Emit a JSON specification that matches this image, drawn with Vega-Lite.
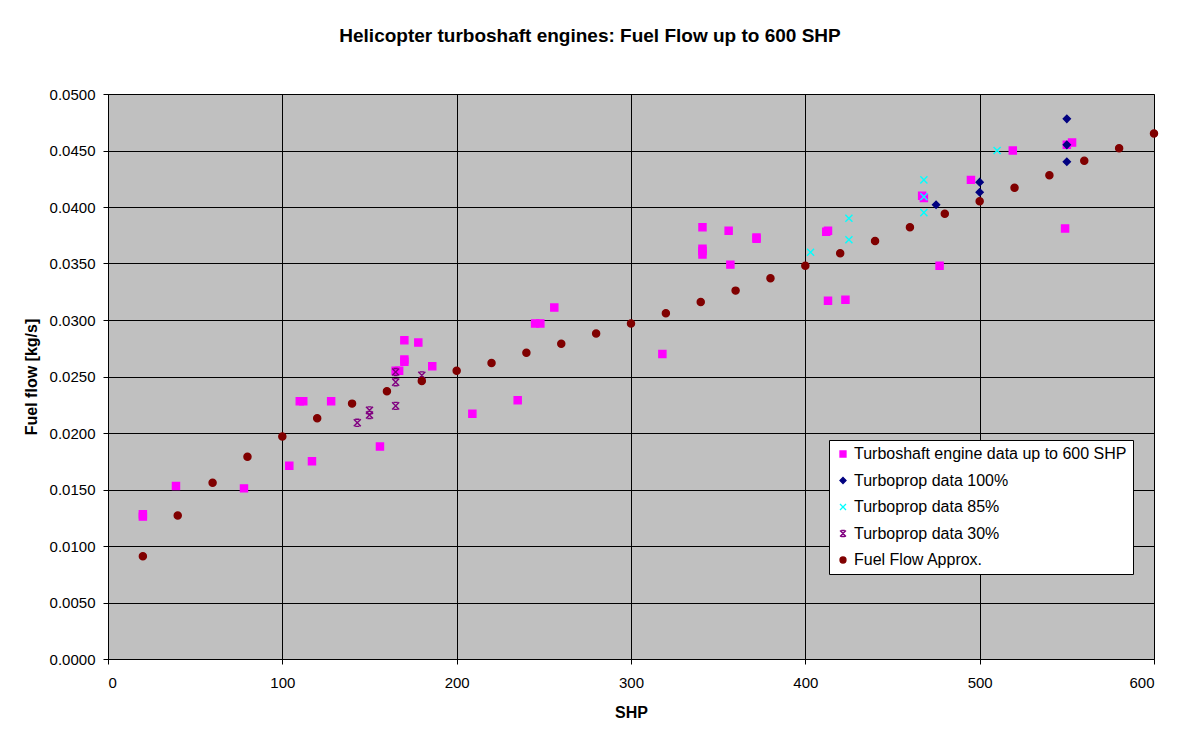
{
  "$schema": "https://vega.github.io/schema/vega-lite/v6.json",
  "autosize": "none",
  "width": 1046,
  "height": 565,
  "padding": {"left": 108, "top": 94, "right": 44, "bottom": 81},
  "background": "white",
  "title": {
    "text": "Helicopter turboshaft engines: Fuel Flow up to 600 SHP",
    "font": "Liberation Sans",
    "fontSize": 19,
    "fontWeight": "bold",
    "color": "black",
    "anchor": "middle",
    "frame": "group",
    "dx": -41,
    "offset": 41
  },
  "data": {
    "values": [
      {"s": "Turboshaft engine data up to 600 SHP", "shp": 20, "ff": 0.0128},
      {"s": "Turboshaft engine data up to 600 SHP", "shp": 20, "ff": 0.0126},
      {"s": "Turboshaft engine data up to 600 SHP", "shp": 39, "ff": 0.0153},
      {"s": "Turboshaft engine data up to 600 SHP", "shp": 78, "ff": 0.0151},
      {"s": "Turboshaft engine data up to 600 SHP", "shp": 104, "ff": 0.0171},
      {"s": "Turboshaft engine data up to 600 SHP", "shp": 110, "ff": 0.0228},
      {"s": "Turboshaft engine data up to 600 SHP", "shp": 112, "ff": 0.0228},
      {"s": "Turboshaft engine data up to 600 SHP", "shp": 117, "ff": 0.0175},
      {"s": "Turboshaft engine data up to 600 SHP", "shp": 128, "ff": 0.0228},
      {"s": "Turboshaft engine data up to 600 SHP", "shp": 156, "ff": 0.0188},
      {"s": "Turboshaft engine data up to 600 SHP", "shp": 165, "ff": 0.0255},
      {"s": "Turboshaft engine data up to 600 SHP", "shp": 167, "ff": 0.0255},
      {"s": "Turboshaft engine data up to 600 SHP", "shp": 170, "ff": 0.0282},
      {"s": "Turboshaft engine data up to 600 SHP", "shp": 170, "ff": 0.0265},
      {"s": "Turboshaft engine data up to 600 SHP", "shp": 170, "ff": 0.0263},
      {"s": "Turboshaft engine data up to 600 SHP", "shp": 178, "ff": 0.0280},
      {"s": "Turboshaft engine data up to 600 SHP", "shp": 186, "ff": 0.0259},
      {"s": "Turboshaft engine data up to 600 SHP", "shp": 209, "ff": 0.0217},
      {"s": "Turboshaft engine data up to 600 SHP", "shp": 235, "ff": 0.0229},
      {"s": "Turboshaft engine data up to 600 SHP", "shp": 245, "ff": 0.0297},
      {"s": "Turboshaft engine data up to 600 SHP", "shp": 248, "ff": 0.0297},
      {"s": "Turboshaft engine data up to 600 SHP", "shp": 256, "ff": 0.0311},
      {"s": "Turboshaft engine data up to 600 SHP", "shp": 318, "ff": 0.0270},
      {"s": "Turboshaft engine data up to 600 SHP", "shp": 341, "ff": 0.0382},
      {"s": "Turboshaft engine data up to 600 SHP", "shp": 341, "ff": 0.0363},
      {"s": "Turboshaft engine data up to 600 SHP", "shp": 341, "ff": 0.0361},
      {"s": "Turboshaft engine data up to 600 SHP", "shp": 341, "ff": 0.0358},
      {"s": "Turboshaft engine data up to 600 SHP", "shp": 356, "ff": 0.0379},
      {"s": "Turboshaft engine data up to 600 SHP", "shp": 357, "ff": 0.0349},
      {"s": "Turboshaft engine data up to 600 SHP", "shp": 372, "ff": 0.0373},
      {"s": "Turboshaft engine data up to 600 SHP", "shp": 372, "ff": 0.0372},
      {"s": "Turboshaft engine data up to 600 SHP", "shp": 412, "ff": 0.0378},
      {"s": "Turboshaft engine data up to 600 SHP", "shp": 413, "ff": 0.0379},
      {"s": "Turboshaft engine data up to 600 SHP", "shp": 413, "ff": 0.0317},
      {"s": "Turboshaft engine data up to 600 SHP", "shp": 423, "ff": 0.0318},
      {"s": "Turboshaft engine data up to 600 SHP", "shp": 467, "ff": 0.0410},
      {"s": "Turboshaft engine data up to 600 SHP", "shp": 468, "ff": 0.0408},
      {"s": "Turboshaft engine data up to 600 SHP", "shp": 477, "ff": 0.0348},
      {"s": "Turboshaft engine data up to 600 SHP", "shp": 495, "ff": 0.0424},
      {"s": "Turboshaft engine data up to 600 SHP", "shp": 519, "ff": 0.0450},
      {"s": "Turboshaft engine data up to 600 SHP", "shp": 549, "ff": 0.0381},
      {"s": "Turboshaft engine data up to 600 SHP", "shp": 550, "ff": 0.0455},
      {"s": "Turboshaft engine data up to 600 SHP", "shp": 553, "ff": 0.0457},
      {"s": "Turboprop data 100%", "shp": 475, "ff": 0.0402},
      {"s": "Turboprop data 100%", "shp": 500, "ff": 0.0422},
      {"s": "Turboprop data 100%", "shp": 500, "ff": 0.0413},
      {"s": "Turboprop data 100%", "shp": 550, "ff": 0.0478},
      {"s": "Turboprop data 100%", "shp": 550, "ff": 0.0455},
      {"s": "Turboprop data 100%", "shp": 550, "ff": 0.0440},
      {"s": "Turboprop data 85%", "shp": 403, "ff": 0.0360},
      {"s": "Turboprop data 85%", "shp": 425, "ff": 0.0390},
      {"s": "Turboprop data 85%", "shp": 425, "ff": 0.0371},
      {"s": "Turboprop data 85%", "shp": 468, "ff": 0.0424},
      {"s": "Turboprop data 85%", "shp": 468, "ff": 0.0409},
      {"s": "Turboprop data 85%", "shp": 468, "ff": 0.0395},
      {"s": "Turboprop data 85%", "shp": 510, "ff": 0.0450},
      {"s": "Turboprop data 30%", "shp": 143, "ff": 0.0209},
      {"s": "Turboprop data 30%", "shp": 150, "ff": 0.0220},
      {"s": "Turboprop data 30%", "shp": 150, "ff": 0.0216},
      {"s": "Turboprop data 30%", "shp": 165, "ff": 0.0254},
      {"s": "Turboprop data 30%", "shp": 165, "ff": 0.0245},
      {"s": "Turboprop data 30%", "shp": 165, "ff": 0.0224},
      {"s": "Turboprop data 30%", "shp": 180, "ff": 0.0251},
      {"s": "Fuel Flow Approx.", "shp": 20, "ff": 0.0091},
      {"s": "Fuel Flow Approx.", "shp": 40, "ff": 0.0127},
      {"s": "Fuel Flow Approx.", "shp": 60, "ff": 0.0156},
      {"s": "Fuel Flow Approx.", "shp": 80, "ff": 0.0179},
      {"s": "Fuel Flow Approx.", "shp": 100, "ff": 0.0197},
      {"s": "Fuel Flow Approx.", "shp": 120, "ff": 0.0213},
      {"s": "Fuel Flow Approx.", "shp": 140, "ff": 0.0226},
      {"s": "Fuel Flow Approx.", "shp": 160, "ff": 0.0237},
      {"s": "Fuel Flow Approx.", "shp": 180, "ff": 0.0246},
      {"s": "Fuel Flow Approx.", "shp": 200, "ff": 0.0255},
      {"s": "Fuel Flow Approx.", "shp": 220, "ff": 0.0262},
      {"s": "Fuel Flow Approx.", "shp": 240, "ff": 0.0271},
      {"s": "Fuel Flow Approx.", "shp": 260, "ff": 0.0279},
      {"s": "Fuel Flow Approx.", "shp": 280, "ff": 0.0288},
      {"s": "Fuel Flow Approx.", "shp": 300, "ff": 0.0297},
      {"s": "Fuel Flow Approx.", "shp": 320, "ff": 0.0306},
      {"s": "Fuel Flow Approx.", "shp": 340, "ff": 0.0316},
      {"s": "Fuel Flow Approx.", "shp": 360, "ff": 0.0326},
      {"s": "Fuel Flow Approx.", "shp": 380, "ff": 0.0337},
      {"s": "Fuel Flow Approx.", "shp": 400, "ff": 0.0348},
      {"s": "Fuel Flow Approx.", "shp": 420, "ff": 0.0359},
      {"s": "Fuel Flow Approx.", "shp": 440, "ff": 0.0370},
      {"s": "Fuel Flow Approx.", "shp": 460, "ff": 0.0382},
      {"s": "Fuel Flow Approx.", "shp": 480, "ff": 0.0394},
      {"s": "Fuel Flow Approx.", "shp": 500, "ff": 0.0405},
      {"s": "Fuel Flow Approx.", "shp": 520, "ff": 0.0417},
      {"s": "Fuel Flow Approx.", "shp": 540, "ff": 0.0428},
      {"s": "Fuel Flow Approx.", "shp": 560, "ff": 0.0441},
      {"s": "Fuel Flow Approx.", "shp": 580, "ff": 0.0452},
      {"s": "Fuel Flow Approx.", "shp": 600, "ff": 0.0465}
    ]
  },
  "mark": {"type": "point", "filled": true, "opacity": 1, "strokeWidth": 1.4},
  "encoding": {
    "x": {
      "field": "shp", "type": "quantitative", "title": "SHP",
      "scale": {"domain": [0, 600], "nice": false, "zero": false},
      "axis": {"values": [0, 100, 200, 300, 400, 500, 600], "format": "d", "titlePadding": 14, "labelPadding": 11}
    },
    "y": {
      "field": "ff", "type": "quantitative", "title": "Fuel flow [kg/s]",
      "scale": {"domain": [0, 0.05], "nice": false, "zero": false},
      "axis": {"values": [0, 0.005, 0.01, 0.015, 0.02, 0.025, 0.03, 0.035, 0.04, 0.045, 0.05], "format": ".4f", "titlePadding": 10, "labelPadding": 8}
    },
    "fill": {
      "field": "s", "type": "nominal",
      "scale": {
        "domain": ["Turboshaft engine data up to 600 SHP", "Turboprop data 100%", "Turboprop data 85%", "Turboprop data 30%", "Fuel Flow Approx."],
        "range": ["#FF00FF", "#000080", "#00FFFF", "#800080", "#800000"]
      },
      "legend": {"title": null, "orient": "none", "legendX": 721, "legendY": 346}
    },
    "stroke": {
      "field": "s", "type": "nominal",
      "scale": {
        "domain": ["Turboshaft engine data up to 600 SHP", "Turboprop data 100%", "Turboprop data 85%", "Turboprop data 30%", "Fuel Flow Approx."],
        "range": ["#FF00FF", "#000080", "#00FFFF", "#800080", "#800000"]
      },
      "legend": {"title": null, "orient": "none", "legendX": 721, "legendY": 346}
    },
    "shape": {
      "field": "s", "type": "nominal",
      "scale": {
        "domain": ["Turboshaft engine data up to 600 SHP", "Turboprop data 100%", "Turboprop data 85%", "Turboprop data 30%", "Fuel Flow Approx."],
        "range": ["square", "diamond", "M-1,-1L1,1M-1,1L1,-1", "M-1,-1L1,1M-1,1L1,-1M-0.6,-1L0.6,-1M-0.6,1L0.6,1", "circle"]
      },
      "legend": {"title": null, "orient": "none", "legendX": 721, "legendY": 346}
    },
    "size": {"value": 50}
  },
  "config": {
    "font": "Liberation Sans",
    "view": {"fill": "#C0C0C0", "stroke": "#808080", "strokeWidth": 1},
    "axis": {
      "labelFont": "Liberation Sans",
      "labelFontSize": 15,
      "labelColor": "black",
      "titleFont": "Liberation Sans",
      "titleFontSize": 16,
      "titleFontWeight": "bold",
      "titleColor": "black",
      "grid": true,
      "gridColor": "black",
      "gridOpacity": 1,
      "gridWidth": 1,
      "domainColor": "black",
      "domainWidth": 1,
      "tickColor": "black",
      "tickSize": 5,
      "tickWidth": 1
    },
    "legend": {
      "labelFont": "Liberation Sans",
      "labelFontSize": 16,
      "labelColor": "black",
      "fillColor": "white",
      "strokeColor": "black",
      "padding": 6,
      "rowPadding": 10.5,
      "symbolSize": 36,
      "symbolStrokeWidth": 1.3,
      "labelOffset": 3,
      "labelLimit": 400
    }
  }
}
